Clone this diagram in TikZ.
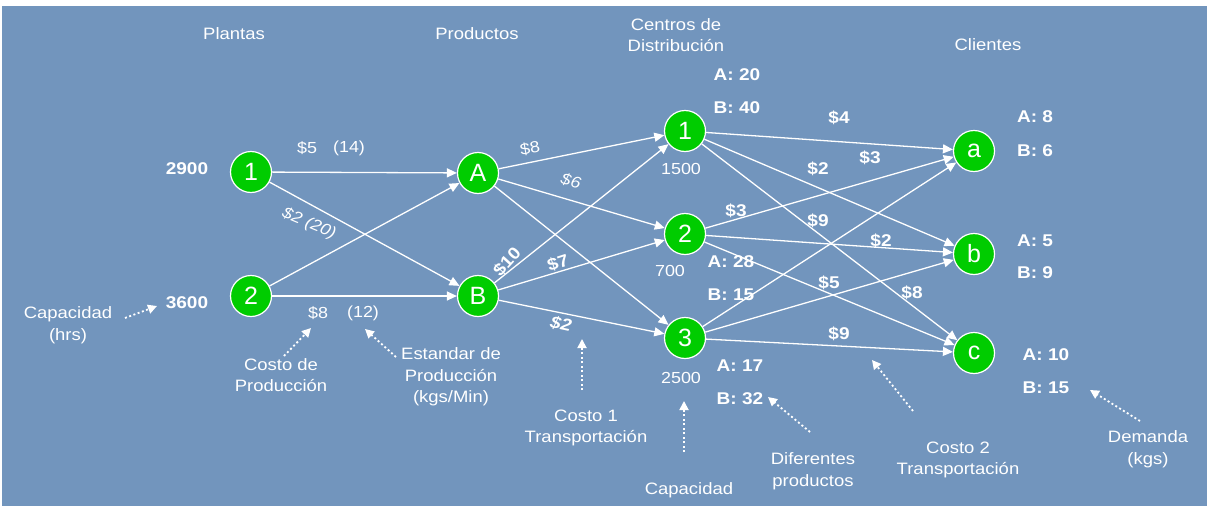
\documentclass[tikz,border=0pt]{standalone}
\usepackage{fontspec}
\setmainfont{Liberation Sans}[FakeStretch=1.12]
\newfontfamily\nodefont{Liberation Sans}
\usetikzlibrary{arrows.meta}
\definecolor{bg}{RGB}{114,149,189}
\definecolor{ng}{RGB}{0,204,0}
\begin{document}
\begin{tikzpicture}[x=1pt,y=-1pt,
  nd/.style={circle,fill=ng,draw=white,line width=1.2pt,minimum size=41pt,inner sep=0pt,text=white,font=\nodefont\fontsize{25}{28}\selectfont},
  ed/.style={draw=white,line width=1.3pt,-{Triangle[length=10pt,width=9pt]}},
  lbl/.style={text=white,font=\fontsize{16.5}{21.5}\selectfont,align=center,inner sep=0pt},
  bl/.style={text=white,font=\fontsize{17}{20}\selectfont\bfseries,inner sep=0pt},
  rl/.style={text=white,font=\fontsize{16}{20}\selectfont,inner sep=0pt},
  note/.style={draw=white,line width=1.8pt,dash pattern=on 2pt off 2.5pt,-{Triangle[length=9pt,width=9pt]}}]
\useasboundingbox (0,0) rectangle (1207,506);
\fill[bg] (2,6) rectangle (1207,506);
% headers
\node[lbl] (hP) at (234,34) {Plantas};
\node[lbl] (hPr) at (477,34) {Productos};
\node[lbl] (hC) at (676,35) {Centros de\\Distribución};
\node[lbl] (hCl) at (988,45) {Clientes};
% nodes
\node[nd] (p1) at (251,172) {1};
\node[nd] (p2) at (251,296) {2};
\node[nd] (A) at (478,173) {A};
\node[nd] (B) at (478,296) {B};
\node[nd] (d1) at (685,131) {1};
\node[nd] (d2) at (685,234) {2};
\node[nd] (d3) at (685,338) {3};
\node[nd] (a) at (974,151) {a};
\node[nd] (b) at (974,254) {b};
\node[nd] (c) at (974,353) {c};
% edges
\foreach \s/\t in {p1/A,p1/B,p2/A,p2/B,A/d1,A/d2,A/d3,B/d1,B/d2,B/d3,d1/a,d1/b,d1/c,d2/a,d2/b,d2/c,d3/a,d3/b,d3/c}
  \draw[ed] (\s) -- (\t);
% plant labels
\node[bl] (cap1) at (187,169) {2900};
\node[bl] (cap2) at (187,303) {3600};
\node[rl] (e1a) at (307,148) {\$5};
\node[rl] (e1b) at (349,148) {(14)};
\node[rl,rotate=-23] (e2) at (309,224) {\itshape \$2 (20)};
\node[rl] (e3a) at (318,313) {\$8};
\node[rl] (e3b) at (363,313) {(12)};
% product -> DC labels
\node[rl,rotate=10] (f1) at (530,148) {\$8};
\node[rl,rotate=-15] (f2) at (571,181) {\itshape \$6};
\node[bl,rotate=48] (f3) at (507,262) {\$10};
\node[bl,rotate=18] (f4) at (558,263) {\$7};
\node[bl,rotate=-12] (f5) at (561,324) {\itshape \$2};
% DC capacities
\node[rl] (k1) at (681,169) {1500};
\node[rl] (k2) at (670,271) {700};
\node[rl] (k3) at (681,378) {2500};
\node[bl] (d1a) at (737,75) {A: 20};
\node[bl] (d1b) at (737,108) {B: 40};
\node[bl] (d2a) at (731,262) {A: 28};
\node[bl] (d2b) at (731,295) {B: 15};
\node[bl] (d3a) at (740,366) {A: 17};
\node[bl] (d3b) at (740,399) {B: 32};
% DC -> client labels
\node[bl] (g1) at (839,118) {\$4};
\node[bl] (g2) at (870,158) {\$3};
\node[bl] (g3) at (818,169) {\$2};
\node[bl] (g4) at (736,211) {\$3};
\node[bl] (g5) at (818,221) {\$9};
\node[bl] (g6) at (881,241) {\$2};
\node[bl] (g7) at (829,283) {\$5};
\node[bl] (g8) at (912,293) {\$8};
\node[bl] (g9) at (839,334) {\$9};
% demands
\node[bl] (ca) at (1035,117) {A: 8};
\node[bl] (cb) at (1035,151) {B: 6};
\node[bl] (cc) at (1035,241) {A: 5};
\node[bl] (cd) at (1035,273) {B: 9};
\node[bl] (ce) at (1046,355) {A: 10};
\node[bl] (cf) at (1046,388) {B: 15};
% annotations
\node[lbl] (n1) at (68,325) {Capacidad\\(hrs)};
\node[lbl] (n2) at (281,375) {Costo de\\Producción};
\node[lbl] (n3) at (451,377) {Estandar de\\Producción\\(kgs/Min)};
\node[lbl] (n4) at (586,428) {Costo 1\\Transportación};
\node[lbl] (n5) at (689,490) {Capacidad};
\node[lbl] (n6) at (813,471) {Diferentes\\productos};
\node[lbl] (n7) at (958,460) {Costo 2\\Transportación};
\node[lbl] (n8) at (1148,449) {Demanda\\(kgs)};
\coordinate (t1) at (125,318); \coordinate (h1) at (157,306);
\coordinate (t2) at (284,356); \coordinate (h2) at (311,328);
\coordinate (t3) at (396,357); \coordinate (h3) at (365,329);
\coordinate (t4) at (582,390); \coordinate (h4) at (582,339);
\coordinate (t5) at (684,452); \coordinate (h5) at (684,401);
\coordinate (t6) at (810,432); \coordinate (h6) at (768,397);
\coordinate (t7) at (913,411); \coordinate (h7) at (872,360);
\coordinate (t8) at (1140,421); \coordinate (h8) at (1090,390);
\foreach \i in {1,...,8} \draw[note] (t\i) -- (h\i);
\end{tikzpicture}
\end{document}
